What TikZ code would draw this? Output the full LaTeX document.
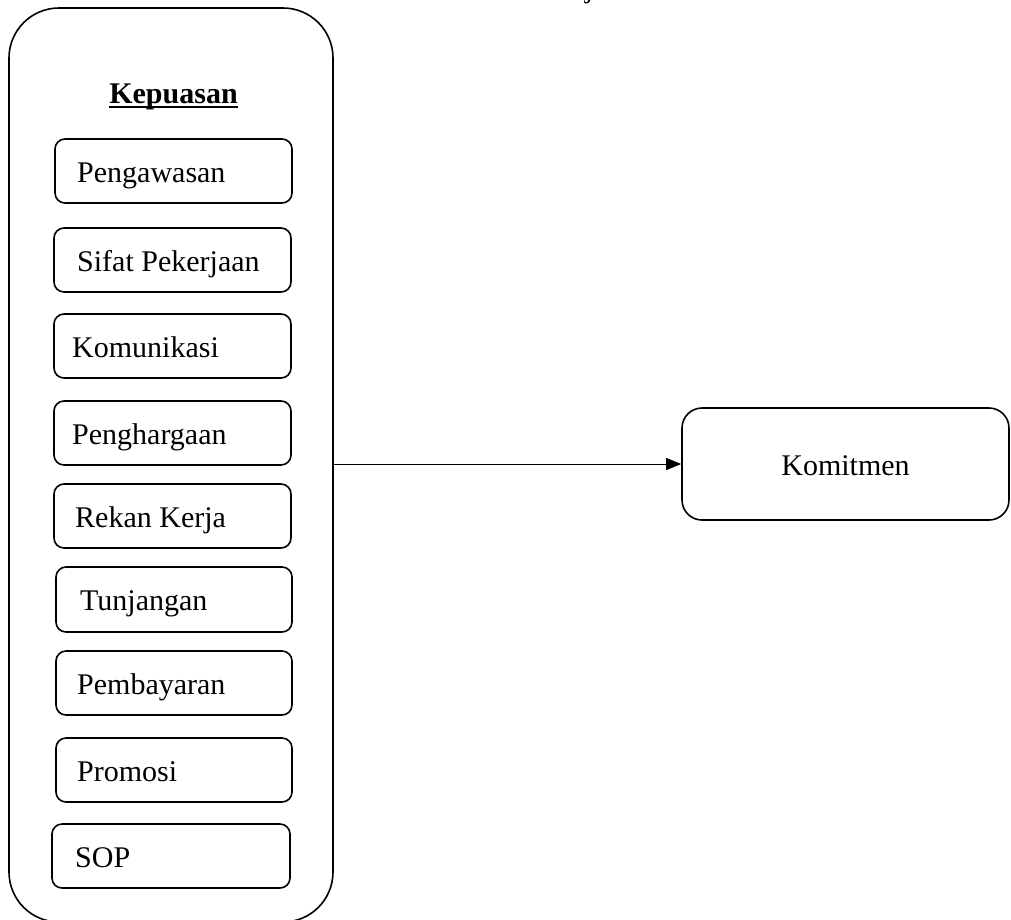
\documentclass[tikz,border=0pt]{standalone}
\usepackage{fontspec}
\setmainfont{Liberation Serif}
\usetikzlibrary{arrows.meta}
\begin{document}
\begin{tikzpicture}[x=1pt,y=-1pt,
  every node/.style={font=\fontsize{30}{36}\selectfont},
  group/.style={draw, line width=1.6pt, rounded corners=50pt, inner sep=0pt},
  factor/.style={draw, line width=1.6pt, rounded corners=10pt, inner sep=0pt},
  target/.style={draw, line width=1.6pt, rounded corners=20pt, inner sep=0pt,
                 text height=22pt, text depth=0pt},
  label/.style={anchor=base west, inner sep=0pt},
  link/.style={line width=1pt, -{Triangle[length=15pt,width=12pt]}}]
\useasboundingbox (0,0) rectangle (1011,919);

% stray glyph from the line above the figure
\node[label] (stray) at (585,-2.5) {j};

% outer group "Kepuasan"
\node[group, minimum width=324pt, minimum height=914pt] (kep) at (171,465) {};
\node[inner sep=0pt, anchor=base, font=\fontsize{30}{36}\selectfont\bfseries] (title) at (173.5,103) {Kepuasan};
\draw[line width=2pt] ([yshift=-4pt]title.base west) -- ([yshift=-4pt]title.base east);

% factor boxes: index/left/top/right/bottom/text-x/text
\foreach \n/\l/\t/\r/\b/\tx/\txt in {
  1/55/139/292/203/77/Pengawasan,
  2/54/228/291/292/77/Sifat Pekerjaan,
  3/54/314/291/378/72/Komunikasi,
  4/54/401/291/465/72/Penghargaan,
  5/54/484/291/548/75/Rekan Kerja,
  6/56/567/292/632/80/Tunjangan,
  7/56/651/292/715/77/Pembayaran,
  8/56/738/292/802/77/Promosi,
  9/52/824/290/888/75/SOP}{
  \node[factor, minimum width=\r-\l, minimum height=\b-\t] (f\n) at ({(\l+\r)/2},{(\t+\b)/2}) {};
  \node[label] (t\n) at (\tx,{(\t+\b)/2+11}) {\txt};
}

% outcome box
\node[target, minimum width=327pt, minimum height=112pt] (kom) at (845.5,464) {Komitmen};

% relation arrow
\draw[link] (kep.east |- kom.west) -- (kom.west);
\end{tikzpicture}
\end{document}
